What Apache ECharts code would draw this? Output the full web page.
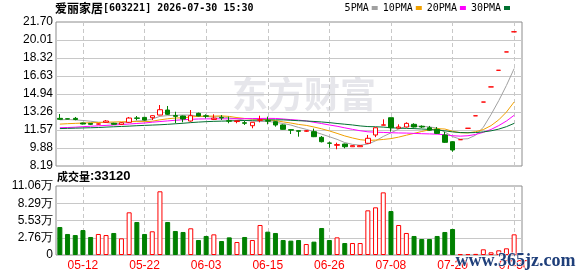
<!DOCTYPE html>
<html>
<head>
<meta charset="utf-8">
<script src="https://cdn.jsdelivr.net/npm/echarts@6/dist/echarts.min.js"></script>
<style>
  html, body { margin: 0; padding: 0; background: #fff; }
  #chart { width: 578px; height: 276px; }
</style>
</head>
<body>
<div id="chart"></div>
<script>
// 行情数据
const stockName = '爱丽家居';
const stockCode = '603221';
const quoteTime = '2026-07-30 15:30';
const lastVolume = 33120;

const dates = [
  '05-07', '05-08', '05-11', '05-12', '05-13', '05-14', '05-15', '05-18', '05-19', '05-20',
  '05-21', '05-22', '05-25', '05-26', '05-27', '05-28', '05-29', '06-01', '06-02', '06-03',
  '06-04', '06-05', '06-08', '06-09', '06-10', '06-11', '06-12', '06-15', '06-16', '06-17',
  '06-18', '06-22', '06-23', '06-24', '06-25', '06-26', '06-29', '06-30', '07-01', '07-02',
  '07-03', '07-06', '07-07', '07-08', '07-09', '07-10', '07-13', '07-14', '07-15', '07-16',
  '07-17', '07-20', '07-21', '07-22', '07-23', '07-24', '07-27', '07-28', '07-29', '07-30'
];
const axisDates = ['05-12', '05-22', '06-03', '06-15', '06-26', '07-08', '07-20', '07-30'];

// [open, close, low, high]
const candles = [
  [12.66, 12.57, 12.52, 13.07], [12.62, 12.60, 12.57, 12.65], [12.66, 12.55, 12.48, 12.79],
  [12.22, 12.13, 12.09, 12.26], [12.19, 12.10, 12.03, 12.22], [12.12, 12.14, 12.08, 12.18],
  [12.29, 12.41, 12.25, 12.50], [12.20, 12.10, 12.06, 12.25], [12.10, 12.25, 12.05, 12.30],
  [12.29, 12.69, 12.25, 12.79], [12.70, 12.66, 12.48, 12.88], [12.75, 12.50, 12.45, 12.80],
  [12.72, 12.91, 12.50, 12.93], [12.97, 13.47, 12.95, 13.91], [13.44, 13.04, 12.97, 13.82],
  [12.92, 12.85, 12.20, 13.28], [12.88, 12.60, 12.29, 12.92], [12.41, 12.91, 12.35, 13.44],
  [13.13, 12.88, 12.85, 13.20], [12.90, 12.86, 12.66, 13.04], [12.56, 12.68, 12.50, 13.04],
  [12.75, 12.70, 12.50, 12.97], [12.43, 12.40, 12.20, 12.82], [12.36, 12.42, 12.20, 12.45],
  [12.25, 12.20, 12.04, 12.41], [11.97, 12.29, 11.73, 12.30], [12.47, 12.53, 12.29, 12.91],
  [12.45, 12.40, 12.10, 12.82], [12.35, 12.04, 11.88, 12.40], [12.04, 11.63, 11.60, 12.10],
  [11.60, 11.55, 11.19, 11.63], [11.50, 11.45, 10.94, 11.52], [11.45, 11.50, 11.40, 11.55],
  [11.41, 10.94, 10.90, 11.70], [10.88, 10.47, 10.40, 11.00], [10.35, 10.32, 9.90, 10.47],
  [10.13, 10.20, 9.76, 10.38], [10.25, 10.00, 9.85, 10.29], [10.00, 10.10, 9.98, 10.15],
  [10.00, 10.10, 9.98, 10.12], [10.32, 10.79, 10.25, 11.10], [11.10, 11.78, 10.90, 11.80],
  [12.02, 12.05, 12.00, 12.57], [12.72, 11.78, 11.41, 12.72], [11.75, 11.85, 11.70, 12.10],
  [11.85, 12.19, 11.80, 12.29], [12.10, 11.85, 11.80, 12.20], [11.92, 11.85, 11.75, 12.00],
  [11.78, 11.55, 11.50, 11.95], [11.63, 11.25, 11.20, 11.85], [11.10, 10.41, 10.35, 11.40],
  [10.47, 9.69, 9.53, 10.50], [10.66, 10.66, 10.66, 10.66], [11.73, 11.73, 11.73, 11.73],
  [12.90, 12.90, 12.90, 12.90], [14.19, 14.19, 14.19, 14.19], [15.61, 15.61, 15.61, 15.61],
  [17.17, 17.17, 17.17, 17.17], [18.89, 18.89, 18.89, 18.89], [20.78, 20.78, 20.78, 20.78]
];

const volumes = [
  44900, 33700, 32000, 40000, 28900, 33700, 32000, 35300, 26700, 68400,
  52900, 33700, 38000, 102100, 52900, 38500, 36900, 42800, 24000, 30500,
  33100, 22400, 28300, 20800, 28900, 24000, 48100, 37400, 35300, 24000,
  23000, 24000, 17600, 21400, 43300, 24000, 28300, 19200, 19200, 19200,
  71600, 76400, 100400, 70500, 48100, 35300, 30500, 25600, 25600, 30500,
  36900, 41700, 1400, 1500, 1800, 9100, 4300, 7500, 10700, 33120
];

const ma5 = [
  12.52, 12.55, 12.52, 12.46, 12.39, 12.30, 12.27, 12.18, 12.20, 12.32,
  12.42, 12.44, 12.60, 12.85, 12.92, 12.95, 12.97, 12.97, 12.86, 12.82,
  12.79, 12.81, 12.70, 12.61, 12.48, 12.40, 12.37, 12.37, 12.29, 12.18,
  12.03, 11.81, 11.63, 11.41, 11.18, 10.94, 10.69, 10.39, 10.22, 10.14,
  10.24, 10.55, 10.96, 11.30, 11.65, 11.93, 11.94, 11.90, 11.86, 11.74,
  11.38, 10.95, 10.71, 10.75, 11.08, 11.83, 13.02, 14.32, 15.75, 17.33
];
const ma10 = [
  12.12, 12.16, 12.19, 12.22, 12.25, 12.27, 12.30, 12.32, 12.34, 12.35,
  12.36, 12.35, 12.39, 12.52, 12.62, 12.69, 12.71, 12.79, 12.85, 12.87,
  12.87, 12.89, 12.84, 12.73, 12.65, 12.59, 12.59, 12.54, 12.45, 12.33,
  12.22, 12.09, 12.00, 11.85, 11.68, 11.48, 11.25, 11.01, 10.82, 10.66,
  10.59, 10.62, 10.68, 10.76, 10.90, 11.08, 11.25, 11.43, 11.58, 11.69,
  11.66, 11.45, 11.31, 11.30, 11.41, 11.61, 11.98, 12.52, 13.25, 14.20
];
const ma20 = [
  11.78, 11.80, 11.83, 11.88, 11.92, 11.96, 12.00, 12.04, 12.08, 12.13,
  12.18, 12.22, 12.30, 12.36, 12.42, 12.48, 12.53, 12.57, 12.60, 12.61,
  12.62, 12.62, 12.61, 12.63, 12.63, 12.64, 12.65, 12.66, 12.65, 12.60,
  12.54, 12.49, 12.42, 12.29, 12.17, 12.04, 11.92, 11.77, 11.63, 11.50,
  11.40, 11.36, 11.34, 11.31, 11.29, 11.28, 11.25, 11.22, 11.20, 11.18,
  11.12, 11.03, 10.99, 11.03, 11.15, 11.35, 11.62, 11.98, 12.41, 12.95
];
const ma30 = [
  11.70, 11.72, 11.74, 11.76, 11.78, 11.80, 11.84, 11.87, 11.90, 11.93,
  11.97, 12.00, 12.03, 12.06, 12.10, 12.15, 12.20, 12.26, 12.31, 12.35,
  12.38, 12.40, 12.42, 12.44, 12.46, 12.48, 12.50, 12.51, 12.52, 12.52,
  12.48, 12.44, 12.41, 12.37, 12.32, 12.26, 12.18, 12.11, 12.04, 11.95,
  11.89, 11.87, 11.84, 11.78, 11.74, 11.72, 11.70, 11.66, 11.62, 11.56,
  11.49, 11.39, 11.33, 11.31, 11.33, 11.39, 11.49, 11.65, 11.88, 12.19
];

const priceTicks = ['8.19', '9.88', '11.57', '13.26', '14.94', '16.63', '18.32', '20.01', '21.70'];
const volTicks = ['0', '2.76万', '5.53万', '8.29万', '11.06万'];
const priceMin = 8.19;
const priceMax = 21.70;
const volMax = 110600;

const UP = '#ff0000';
const DOWN = '#008000';

var myChart = echarts.init(document.getElementById('chart'));

// 成交量柱子颜色跟随K线涨跌
var volData = volumes.map(function (v, i) {
    var up = candles[i][1] >= candles[i][0];
    return {
        value: v,
        itemStyle: up
            ? { color: '#fff', borderColor: UP, borderWidth: 1 }
            : { color: DOWN, borderColor: DOWN, borderWidth: 1 }
    };
});

function isAxisDate(index, value) {
    return axisDates.indexOf(value) >= 0;
}
function innerLine(count) {
    return function (index) { return index > 0 && index < count - 1; };
}

var frameGrid = { show: true, borderColor: '#8c8c8c', borderWidth: 1, backgroundColor: 'transparent' };
var labelFont = { color: '#000', fontFamily: 'Liberation Sans', fontSize: 12 };

const option = {
    animation: false,
    title: [
        {
            text: '{a|' + stockName + '}{b|[' + stockCode + '] ' + quoteTime + '}',
            left: 55, top: 2, padding: 0,
            textStyle: {
                rich: {
                    a: { fontFamily: 'Noto Sans CJK SC', fontSize: 12, color: '#000' },
                    b: { fontFamily: 'DejaVu Sans Mono', fontSize: 10, color: '#000' }
                }
            }
        },
        {
            text: '{a|成交量}{b|:' + lastVolume + '}',
            left: 57, top: 170, padding: 0,
            textStyle: {
                rich: {
                    a: { fontFamily: 'Noto Sans CJK SC', fontSize: 11, color: '#000' },
                    b: { fontFamily: 'Liberation Sans', fontSize: 13, color: '#000' }
                }
            }
        }
    ],
    legend: {
        data: ['5PMA', '10PMA', '20PMA', '30PMA'],
        right: 68, top: 3, padding: 0,
        align: 'right',
        icon: 'rect',
        itemWidth: 6, itemHeight: 4, itemGap: 5,
        selectedMode: false,
        textStyle: { fontFamily: 'DejaVu Sans Mono', fontSize: 10, color: '#000', padding: [0, -2, 0, 0] }
    },
    grid: [
        Object.assign({ left: 56, top: 22, width: 466, height: 144 }, frameGrid),
        { left: 56, top: 22, width: 462, height: 144 },
        Object.assign({ left: 56, top: 186, width: 466, height: 69 }, frameGrid),
        { left: 56, top: 186, width: 462, height: 69 }
    ],
    xAxis: [
        { type: 'value', gridIndex: 0, min: 0, max: 1, show: false },
        {
            type: 'category', gridIndex: 1, data: dates,
            axisLine: { show: false }, axisTick: { show: false }, axisLabel: { show: false },
            splitLine: { show: true, interval: isAxisDate, alignWithLabel: true,
                lineStyle: { color: '#c8c8c8', type: [4, 3] } }
        },
        { type: 'value', gridIndex: 2, min: 0, max: 1, show: false },
        {
            type: 'category', gridIndex: 3, data: dates,
            axisLine: { show: false }, axisTick: { show: false },
            axisLabel: { interval: isAxisDate, color: UP, fontFamily: 'Liberation Sans', fontSize: 12, margin: 5 },
            splitLine: { show: true, interval: isAxisDate, alignWithLabel: true,
                lineStyle: { color: '#c8c8c8', type: [4, 3] } }
        }
    ],
    yAxis: [
        {
            type: 'category', gridIndex: 0, data: priceTicks, boundaryGap: false,
            axisLine: { show: false }, axisTick: { show: false },
            axisLabel: Object.assign({ interval: 0, margin: 3 }, labelFont),
            splitLine: { show: true, interval: innerLine(priceTicks.length), lineStyle: { color: '#c8c8c8' } }
        },
        { type: 'value', gridIndex: 1, min: priceMin, max: priceMax, show: false },
        {
            type: 'category', gridIndex: 2, data: volTicks, boundaryGap: false,
            axisLine: { show: false }, axisTick: { show: false },
            axisLabel: Object.assign({ interval: 0, margin: 3 }, labelFont),
            splitLine: { show: true, interval: innerLine(volTicks.length), lineStyle: { color: '#c8c8c8' } }
        },
        { type: 'value', gridIndex: 3, min: 0, max: volMax, show: false }
    ],
    graphic: [
        {
            type: 'text', left: 232, top: 76, z: -1, silent: true,
            style: { text: '东方财富', font: 'bold 36px "Noto Sans CJK SC"', fill: '#e6e6eb' }
        },
        {
            type: 'text', left: 455, top: 252, z: 100, silent: true,
            style: { text: 'www.365jz.com', font: 'bold 18px "Liberation Serif"', fill: '#1f3f7a',
                stroke: '#fff', lineWidth: 1 }
        }
    ],
    series: [
        {
            name: 'K', type: 'candlestick', xAxisIndex: 1, yAxisIndex: 1,
            data: candles, barWidth: 5, z: 3,
            itemStyle: { color: '#fff', color0: DOWN, borderColor: UP, borderColor0: DOWN, borderWidth: 1 }
        },
        { name: '5PMA', type: 'line', xAxisIndex: 1, yAxisIndex: 1, data: ma5, symbol: 'none',
            color: '#a0a0a0', lineStyle: { width: 1, color: '#a0a0a0' }, z: 2 },
        { name: '10PMA', type: 'line', xAxisIndex: 1, yAxisIndex: 1, data: ma10, symbol: 'none',
            color: '#f0a000', lineStyle: { width: 1, color: '#f0a000' }, z: 2 },
        { name: '20PMA', type: 'line', xAxisIndex: 1, yAxisIndex: 1, data: ma20, symbol: 'none',
            color: '#ff00ff', lineStyle: { width: 1, color: '#ff00ff' }, z: 2 },
        { name: '30PMA', type: 'line', xAxisIndex: 1, yAxisIndex: 1, data: ma30, symbol: 'none',
            color: '#007030', lineStyle: { width: 1, color: '#007030' }, z: 2 },
        {
            name: '成交量', type: 'bar', xAxisIndex: 3, yAxisIndex: 3,
            data: volData, barWidth: 5
        }
    ]
};
myChart.setOption(option);
</script>
</body>
</html>
